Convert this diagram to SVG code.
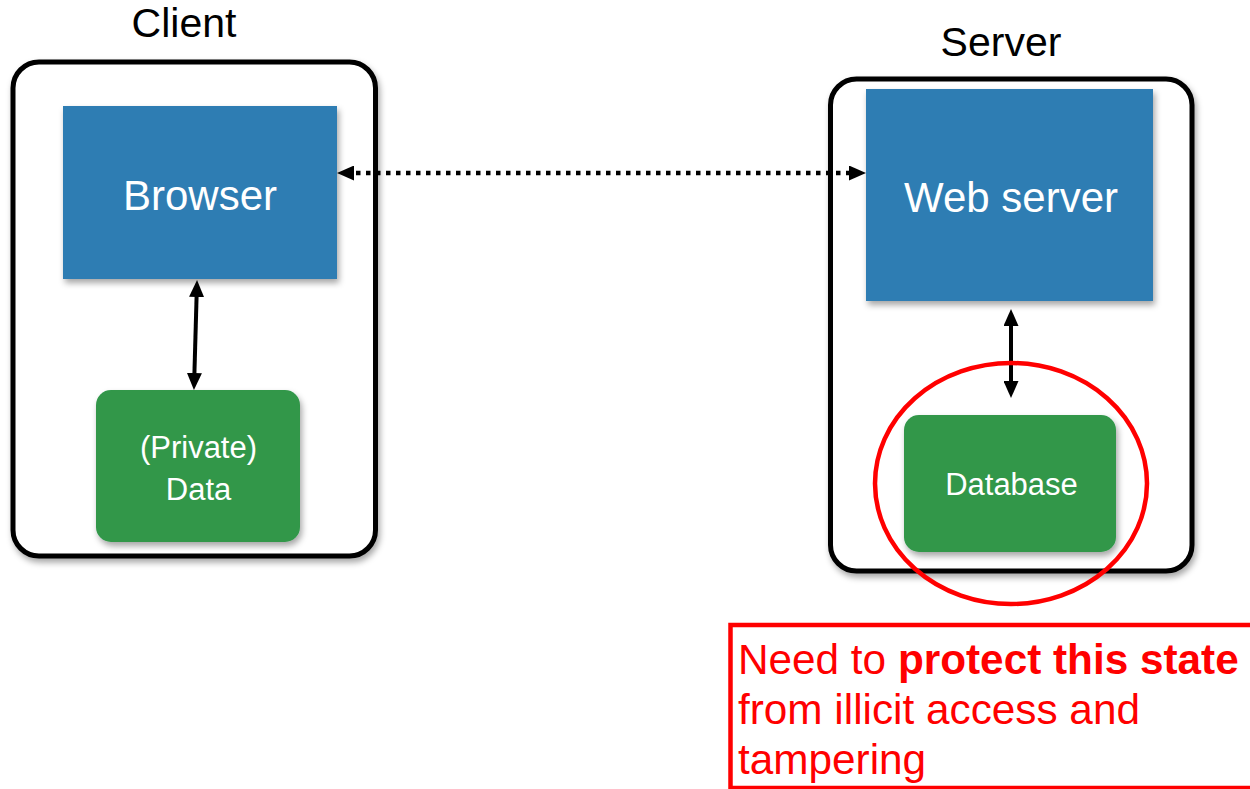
<svg xmlns="http://www.w3.org/2000/svg" width="1250" height="789" viewBox="0 0 1250 789">
  <style>
    .label { font-family: "Liberation Sans", Arial, sans-serif; fill: #000; font-size: 41px; text-anchor: middle; }
    .tier { fill: #fff; stroke: #000; stroke-width: 5; }
    .proc { fill: #2e7db3; }
    .store { fill: #30974a; }
    .proc-text { font-family: "Liberation Sans", Arial, sans-serif; fill: #fff; font-size: 42px; text-anchor: middle; }
    .store-text { font-family: "Liberation Sans", Arial, sans-serif; fill: #fff; font-size: 31px; text-anchor: middle; }
    .link { fill: none; stroke: #000; stroke-width: 4; }
    .dotted { stroke-dasharray: 4.5 5.5; stroke-width: 4.5; }
    .note { font-family: "Liberation Sans", Arial, sans-serif; fill: #f00; font-size: 42.3px; }
  </style>
  <defs>
    <filter id="shadow" x="-10%" y="-10%" width="130%" height="130%">
      <feDropShadow dx="2" dy="4" stdDeviation="3" flood-color="#000" flood-opacity="0.35"/>
    </filter>
    <marker id="head" viewBox="0 0 17 15" refX="8" refY="7.5" markerWidth="17" markerHeight="15" markerUnits="userSpaceOnUse" orient="auto-start-reverse">
      <path d="M0,0 L17,7.5 L0,15 Z" fill="#000"/>
    </marker>
  </defs>

  <rect width="1250" height="789" fill="#fff"/>

  <!-- Client tier -->
  <g id="client">
    <text class="label" x="184" y="37">Client</text>
    <rect class="tier" x="13" y="62" width="362.5" height="494" rx="26" filter="url(#shadow)"/>
  </g>

  <!-- Server tier -->
  <g id="server">
    <text class="label" x="1001" y="56">Server</text>
    <rect class="tier" x="830.5" y="79" width="361.5" height="492" rx="26" filter="url(#shadow)"/>
  </g>

  <g id="browser">
    <rect class="proc" x="63" y="106" width="274" height="173" filter="url(#shadow)"/>
    <text class="proc-text" x="200" y="210">Browser</text>
  </g>

  <g id="private-data">
    <rect class="store" x="96" y="390" width="204" height="152" rx="15" filter="url(#shadow)"/>
    <text class="store-text" x="198.5" y="458">(Private)</text>
    <text class="store-text" x="198.5" y="500">Data</text>
  </g>

  <g id="web-server">
    <rect class="proc" x="866" y="89" width="287" height="212" filter="url(#shadow)"/>
    <text class="proc-text" x="1011" y="212">Web server</text>
  </g>

  <g id="database">
    <rect class="store" x="904" y="415" width="212" height="137" rx="15" filter="url(#shadow)"/>
    <text class="store-text" x="1011.5" y="495">Database</text>
  </g>

  <!-- Connectors -->
  <g id="connectors">
    <path class="link dotted" d="M346,173 L857,173" marker-start="url(#head)" marker-end="url(#head)"/>
    <path class="link" d="M196.8,289 L194.2,381" marker-start="url(#head)" marker-end="url(#head)"/>
    <path class="link" d="M1011,318 L1011,389" marker-start="url(#head)" marker-end="url(#head)"/>
  </g>

  <!-- Highlight around the stored state -->
  <g id="highlight">
    <ellipse cx="1011" cy="483.5" rx="136" ry="120.5" fill="none" stroke="#f00" stroke-width="4.5"/>
  </g>

  <g id="note">
    <rect x="730.5" y="625" width="560" height="163" fill="none" stroke="#f00" stroke-width="4.5"/>
    <text class="note" x="738" y="674">Need to <tspan font-weight="bold">protect this state</tspan></text>
    <text class="note" x="738" y="724">from illicit access and</text>
    <text class="note" x="738" y="774">tampering</text>
  </g>
</svg>
